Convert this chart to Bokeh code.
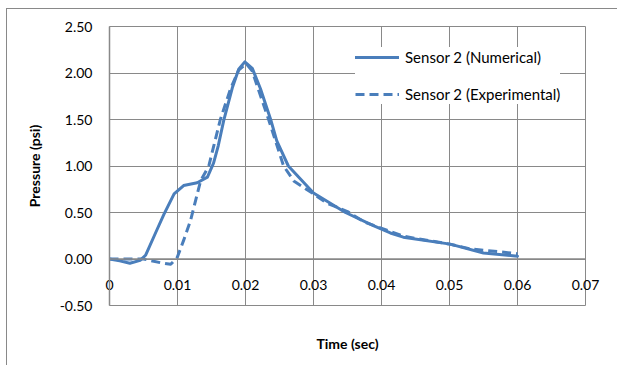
from bokeh.plotting import figure
from bokeh.models import (FixedTicker, CustomJSTickFormatter, Legend, LegendItem,
                          Span, Range1d)
from bokeh.embed import file_html
from bokeh.resources import INLINE

# ---- data ----
t_num = [0, 0.0015, 0.003, 0.0045, 0.0053, 0.0068, 0.008, 0.0095, 0.0109, 0.0129,
         0.0144, 0.0153, 0.016, 0.0168, 0.0181, 0.019, 0.0199, 0.021, 0.0222,
         0.0237, 0.0246, 0.0263, 0.03, 0.0347, 0.0388, 0.0413, 0.0432, 0.0501,
         0.055, 0.06]
p_num = [0, -0.02, -0.045, -0.015, 0.04, 0.285, 0.48, 0.70, 0.79, 0.82,
         0.88, 1.03, 1.22, 1.49, 1.85, 2.04, 2.12, 2.05, 1.83,
         1.50, 1.27, 1.00, 0.71, 0.50, 0.36, 0.28, 0.235, 0.16,
         0.065, 0.03]

t_exp = [0, 0.0025, 0.005, 0.0075, 0.009, 0.00995, 0.0109, 0.0119, 0.01265, 0.0134,
         0.0146, 0.0163, 0.0178, 0.019, 0.0201, 0.021, 0.022, 0.0234, 0.0256,
         0.0271, 0.03, 0.032, 0.035, 0.0374, 0.0432, 0.05, 0.053, 0.06]
p_exp = [0, 0.0, 0.0, -0.04, -0.057, 0.015, 0.20, 0.41, 0.625, 0.84,
         1.00, 1.50, 1.83, 2.03, 2.10, 2.02, 1.80, 1.50, 1.00,
         0.84, 0.70, 0.60, 0.51, 0.40, 0.245, 0.16, 0.11, 0.057]

x_ticks = [0, 0.01, 0.02, 0.03, 0.04, 0.05, 0.06, 0.07]
x_labels = ["0", "0.01", "0.02", "0.03", "0.04", "0.05", "0.06", "0.07"]
y_ticks = [-0.5, 0, 0.5, 1.0, 1.5, 2.0, 2.5]
y_labels = ["-0.50", "0.00", "0.50", "1.00", "1.50", "2.00", "2.50"]

series_names = ["Sensor 2 (Numerical)", "Sensor 2 (Experimental)"]
x_title = "Time (sec)"
y_title = "Pressure (psi)"

FONT = "Lato"
GRID = "#898989"
BLUE = "#4a7ebb"

LOOKUP = """
let best = 0, d = 1e9;
for (let i = 0; i < tvals.length; i++) {
    const dd = Math.abs(tvals[i] - tick);
    if (dd < d) { d = dd; best = i; }
}
return labels[best];
"""

p = figure(width=611, height=357, output_backend="svg", toolbar_location=None,
           x_range=Range1d(0, 0.07), y_range=Range1d(-0.5, 2.5),
           min_border_left=102, min_border_right=33, min_border_top=17,
           min_border_bottom=61)
p.margin = (8, 0, 0, 6)
p.styles = {"border-left": "1px solid #898989", "border-top": "1px solid #898989"}
p.background_fill_color = "white"
p.border_fill_color = "white"
p.outline_line_color = GRID
p.outline_line_width = 1

# grid
p.xgrid.ticker = FixedTicker(ticks=x_ticks)
p.ygrid.ticker = FixedTicker(ticks=y_ticks)
for g in (p.xgrid, p.ygrid):
    g.grid_line_color = GRID
    g.grid_line_width = 1

# horizontal axis line crossing at y = 0
p.add_layout(Span(location=0, dimension="width", line_color=GRID, line_width=1.5))

xa = p.xaxis[0]
xa.ticker = FixedTicker(ticks=x_ticks)
xa.formatter = CustomJSTickFormatter(args=dict(labels=x_labels, tvals=x_ticks), code=LOOKUP)
xa.axis_line_color = None
xa.major_tick_line_color = None
xa.minor_tick_line_color = None
xa.major_tick_out = 0
xa.major_tick_in = 0
xa.major_label_standoff = -26
xa.major_label_text_font = FONT
xa.major_label_text_font_size = "14px"
xa.major_label_text_color = "#000000"
xa.axis_label = x_title
xa.axis_label_text_font = FONT
xa.axis_label_text_font_size = "14px"
xa.axis_label_text_font_style = "bold"
xa.axis_label_text_color = "#000000"
xa.axis_label_standoff = 42

ya = p.yaxis[0]
ya.ticker = FixedTicker(ticks=y_ticks)
ya.formatter = CustomJSTickFormatter(args=dict(labels=y_labels, tvals=y_ticks), code=LOOKUP)
ya.axis_line_color = GRID
ya.axis_line_width = 1.5
ya.major_tick_line_color = None
ya.minor_tick_line_color = None
ya.major_tick_out = 0
ya.major_tick_in = 0
ya.major_label_standoff = 17
ya.major_label_text_font = FONT
ya.major_label_text_font_size = "14px"
ya.major_label_text_color = "#000000"
ya.axis_label = y_title
ya.axis_label_text_font = FONT
ya.axis_label_text_font_size = "14px"
ya.axis_label_text_font_style = "bold"
ya.axis_label_text_color = "#000000"
ya.axis_label_standoff = 14

# lines
r1 = p.line(t_num, p_num, line_color=BLUE, line_width=3, line_join="round", line_cap="round")
r2 = p.line(t_exp, p_exp, line_color=BLUE, line_width=3, line_dash="9 5", line_join="round")

legend = Legend(items=[LegendItem(label=series_names[0], renderers=[r1]),
                       LegendItem(label=series_names[1], renderers=[r2])],
                location=(246, 201), orientation="vertical")
legend.background_fill_color = "white"
legend.background_fill_alpha = 1.0
legend.border_line_color = None
legend.label_text_font = FONT
legend.label_text_font_size = "15px"
legend.label_text_color = "#000000"
legend.glyph_width = 44
legend.glyph_height = 20
legend.label_height = 20
legend.label_standoff = 6
legend.spacing = 17
legend.padding = 10
legend.margin = 0
p.add_layout(legend)

open("out.html", "w").write(file_html(p, INLINE))
